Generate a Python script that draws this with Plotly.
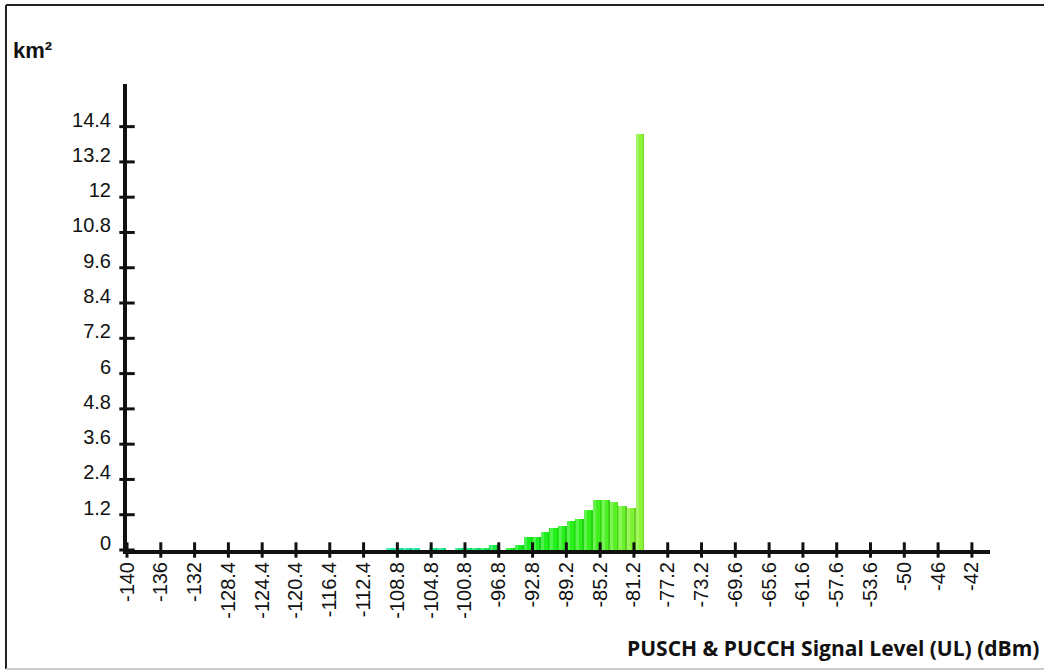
import numpy as np
import plotly.graph_objects as go

# Signal level histogram: 1 dBm bins (left edge) and covered area in km²
bin_left = [-110, -109, -108, -107, -105, -104, -102, -101, -100, -99, -98,
            -96, -95, -94, -93, -92, -91, -90, -89, -88, -87, -86, -85, -84,
            -83, -82, -81]
area_km2 = [0.08, 0.08, 0.08, 0.08, 0.08, 0.08, 0.08, 0.08, 0.08, 0.08, 0.18,
            0.07, 0.17, 0.44, 0.44, 0.61, 0.75, 0.82, 0.99, 1.05, 1.36, 1.70,
            1.70, 1.63, 1.50, 1.43, 14.15]

# Axis ticks
x_tick_labels = ["-140", "-136", "-132", "-128.4", "-124.4", "-120.4", "-116.4",
                 "-112.4", "-108.8", "-104.8", "-100.8", "-96.8", "-92.8",
                 "-89.2", "-85.2", "-81.2", "-77.2", "-73.2", "-69.6", "-65.6",
                 "-61.6", "-57.6", "-53.6", "-50", "-46", "-42"]
y_tick_vals = [0, 1.2, 2.4, 3.6, 4.8, 6, 7.2, 8.4, 9.6, 10.8, 12, 13.2, 14.4]
y_tick_text = ["0", "1.2", "2.4", "3.6", "4.8", "6", "7.2", "8.4", "9.6",
               "10.8", "12", "13.2", "14.4"]

X_MIN, X_MAX = -140, -39.9
Y_MAX = 15.85
x_tick_vals = np.linspace(-140, -42, len(x_tick_labels))
centers = [b + 0.5 for b in bin_left]

W, H = 1044, 670
ML, MR, MT, MB = 127, 54, 84, 120
PW, PH = W - ML - MR, H - MT - MB

def px_x(p):
    return (p - ML) / PW

def px_y(p):
    return (H - MB - p) / PH

AXIS = "#111111"
TICK_FONT = dict(family="Liberation Sans, Arial, sans-serif", size=20, color="#111111")

level_scale = [[0.0, "#24eab4"], [0.35, "#16ee78"], [0.5, "#10f020"],
               [0.8, "#30f018"], [0.93, "#60f028"], [1.0, "#8cf234"]]

fig = go.Figure()

# main bars coloured by signal level
fig.add_trace(go.Bar(
    x=centers, y=area_km2, width=1.0,
    marker=dict(color=centers, colorscale=level_scale, cmin=-110, cmax=-81,
                line=dict(width=0)),
    hoverinfo="x+y", showlegend=False,
))
# light left sheen on each bar
fig.add_trace(go.Bar(
    x=centers, y=area_km2, width=0.35, offset=-0.45,
    marker=dict(color="rgba(255,255,255,0.22)", line=dict(width=0)),
    hoverinfo="skip", showlegend=False,
))
# darker right edge on each bar
fig.add_trace(go.Bar(
    x=centers, y=area_km2, width=0.18, offset=0.32,
    marker=dict(color="rgba(0,70,0,0.18)", line=dict(width=0)),
    hoverinfo="skip", showlegend=False,
))

# tick marks crossing the axes
fig.add_trace(go.Scatter(
    x=list(x_tick_vals), y=[0] * len(x_tick_vals), mode="markers",
    marker=dict(symbol="line-ns-open", size=11, color=AXIS,
                line=dict(width=3, color=AXIS)),
    cliponaxis=False, hoverinfo="skip", showlegend=False,
))
fig.add_trace(go.Scatter(
    x=[X_MIN] * len(y_tick_vals), y=y_tick_vals, mode="markers",
    marker=dict(symbol="line-ew-open", size=11, color=AXIS,
                line=dict(width=3, color=AXIS)),
    cliponaxis=False, hoverinfo="skip", showlegend=False,
))

fig.update_layout(
    width=W, height=H,
    margin=dict(l=ML, r=MR, t=MT, b=MB, autoexpand=False),
    paper_bgcolor="white", plot_bgcolor="white",
    barmode="overlay", bargap=0,
    xaxis=dict(range=[X_MIN, X_MAX], showgrid=False, zeroline=False,
               showline=True, linewidth=4, linecolor=AXIS,
               tickmode="array", tickvals=list(x_tick_vals), ticktext=x_tick_labels,
               ticks="", tickangle=-90, tickfont=TICK_FONT, ticklabelstandoff=0),
    yaxis=dict(range=[0, Y_MAX], showgrid=False, zeroline=False,
               showline=True, linewidth=4, linecolor=AXIS,
               tickmode="array", tickvals=y_tick_vals, ticktext=y_tick_text,
               ticks="", tickfont=TICK_FONT, ticklabelstandoff=8,
               ticklabelshift=-7),
    annotations=[
        dict(text="<b>km²</b>", xref="paper", yref="paper",
             x=px_x(11), y=px_y(50), xanchor="left", yanchor="middle",
             showarrow=False,
             font=dict(family="Liberation Sans, Arial, sans-serif", size=22, color="#111111")),
        dict(text="<b>PUSCH & PUCCH Signal Level (UL) (dBm)</b>", xref="paper", yref="paper",
             x=px_x(1041), y=px_y(648), xanchor="right", yanchor="middle",
             showarrow=False,
             font=dict(family="Open Sans, Noto Sans, sans-serif", size=21, color="#111111")),
    ],
    shapes=[
        # outer frame
        dict(type="line", xref="paper", yref="paper",
             x0=px_x(6), x1=px_x(1046), y0=px_y(5), y1=px_y(5),
             line=dict(color="#222222", width=2)),
        dict(type="line", xref="paper", yref="paper",
             x0=px_x(6), x1=px_x(6), y0=px_y(5), y1=px_y(669),
             line=dict(color="#222222", width=2)),
        dict(type="line", xref="paper", yref="paper",
             x0=px_x(6), x1=px_x(1046), y0=px_y(669), y1=px_y(669),
             line=dict(color="#cccccc", width=2)),
    ],
)

fig.write_html("out.html")
